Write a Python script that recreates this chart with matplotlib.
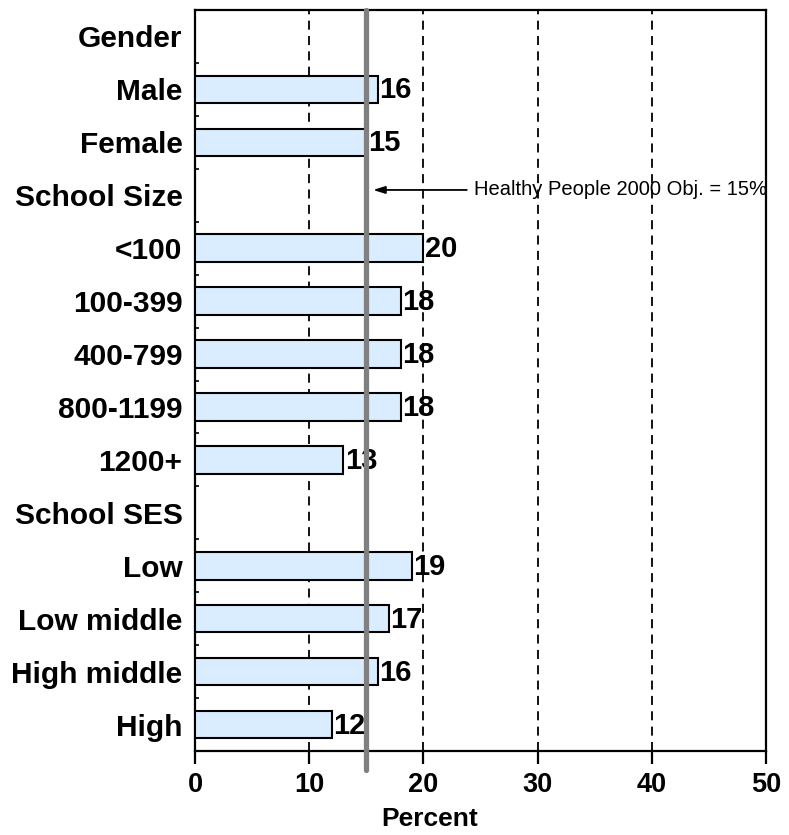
import matplotlib
matplotlib.use("Agg")
import matplotlib.pyplot as plt
import numpy as np

categories = ["Gender", "Male", "Female", "School Size", "<100", "100-399",
              "400-799", "800-1199", "1200+", "School SES", "Low",
              "Low middle", "High middle", "High"]
values = [None, 16, 15, None, 20, 18, 18, 18, 13, None, 19, 17, 16, 12]
x_ticks = [0, 10, 20, 30, 40, 50]
objective = 15
annotation_text = "Healthy People 2000 Obj. = 15%"

plt.rcParams['font.family'] = ['Liberation Sans', 'DejaVu Sans']

fig = plt.figure(figsize=(7.89, 8.35), dpi=100)
ax = fig.add_axes([195/789, 1-751/835, (766-195)/789, (751-10)/835])

n = len(categories)
ypos = np.arange(n)
for i, v in enumerate(values):
    if v is None:
        continue
    ax.barh(i, v, height=0.52, color='#D9EDFF', edgecolor='black', linewidth=1.5, zorder=3)
    ax.text(v + 0.12, i + 0.02, str(v), ha='left', va='center', fontsize=21,
            fontweight='bold', zorder=4)

ax.set_xlim(0, 50)
ax.set_ylim(n - 0.5, -0.5)

for g in x_ticks[1:-1]:
    ax.axvline(g, color='black', linestyle=(0, (5, 3.5)), linewidth=1.3, zorder=1)

ax.plot([objective, objective], [1.0, -0.025], transform=ax.get_xaxis_transform(),
        color='#808080', linewidth=3.8, clip_on=False, zorder=5, solid_capstyle='round')

ax.annotate("", xy=(15.6, 2.9), xytext=(23.8, 2.9),
            arrowprops=dict(arrowstyle='-|>,head_length=0.7,head_width=0.22',
                            color='black', lw=1.3, shrinkA=0, shrinkB=0), zorder=6)
ax.text(24.4, 2.9, annotation_text, ha='left', va='center', fontsize=14.5, zorder=6)

ax.set_xticks(x_ticks)
ax.set_xticklabels([str(t) for t in x_ticks], fontsize=19.5, fontweight='bold')
ax.tick_params(axis='x', direction='out', length=9, width=1.6, pad=6)

ax.set_yticks(ypos)
ax.set_yticklabels(categories, fontsize=21.5, fontweight='bold')
ax.tick_params(axis='y', which='major', length=0, pad=9)
ax.set_yticks(np.arange(n + 1) - 0.5, minor=True)
ax.tick_params(axis='y', which='minor', direction='in', length=3, width=1.2)

ax.set_xlabel("Percent", fontsize=19, fontweight='bold')
ax.xaxis.set_label_coords((430 - 195) / 571, -0.076)

for s in ax.spines.values():
    s.set_linewidth(1.6)

fig.savefig("out.png", dpi=100)
